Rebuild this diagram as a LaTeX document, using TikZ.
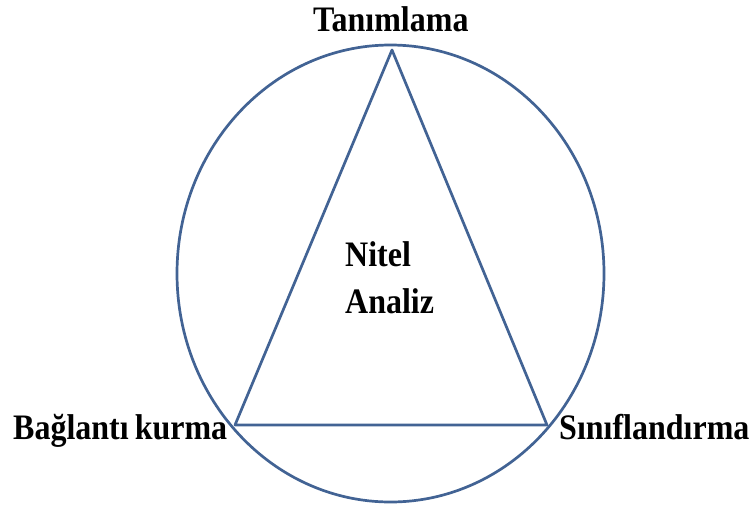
\documentclass[tikz,border=0pt]{standalone}
\usepackage{fontspec}
\setmainfont{Liberation Serif}
\definecolor{linecol}{RGB}{66,99,148}
\newcommand{\tallt}[1]{\scalebox{1}[1.12]{#1}}
\begin{document}
\begin{tikzpicture}[x=1pt,y=-1pt,
  shape line/.style={draw=linecol,line width=2.7pt,line join=round},
  label text/.style={inner sep=0pt,font=\fontsize{32}{47}\selectfont\bfseries,text=black}]
\useasboundingbox (0,0) rectangle (754,504);
\draw[shape line] (390.5,273.5) ellipse [x radius=213.5,y radius=228.5];
\coordinate (T) at (392,50);
\coordinate (L) at (235,425);
\coordinate (R) at (547,425);
\draw[shape line] (T) -- (L) -- (R) -- cycle;
\node[label text,anchor=base west] (tan) at (313,31.5) {\tallt{Tanımlama}};
\node[label text,anchor=base west] (bag) at (13,439) {\tallt{Bağlantı\hspace{-2pt} kurma}};
\node[label text,anchor=base west] (sin) at (559,439) {\tallt{Sınıflandırma}};
\node[label text,anchor=north west,align=left] (nit) at (345,241) {\tallt{Nitel}\\\tallt{Analiz}};
\end{tikzpicture}
\end{document}
